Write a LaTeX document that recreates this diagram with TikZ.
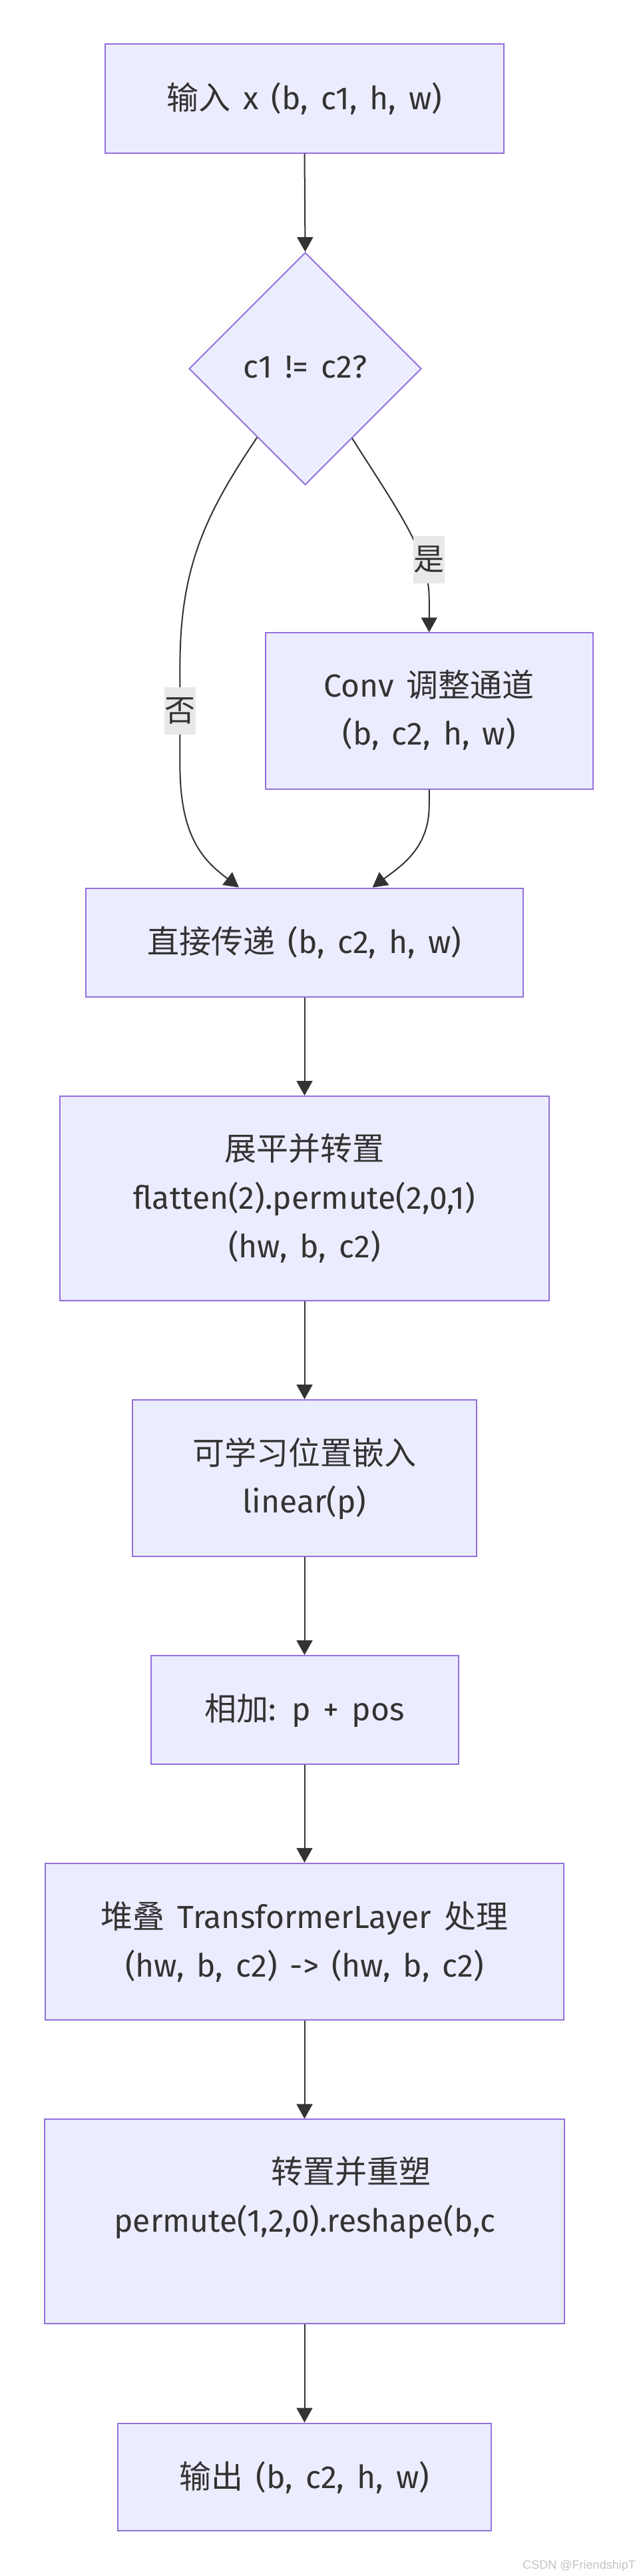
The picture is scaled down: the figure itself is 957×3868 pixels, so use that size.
\documentclass[tikz,border=0pt]{standalone}
\usepackage{fontspec}
\setmainfont{Fira Sans}[WordSpace=1.5]
\newfontfamily\cjk{Noto Sans CJK SC}
\newfontfamily\wmfont{Liberation Sans}
\usetikzlibrary{arrows.meta,shapes.geometric}
\definecolor{mmfill}{HTML}{ECECFF}
\definecolor{mmborder}{HTML}{9370DB}
\definecolor{mmline}{HTML}{333333}
\definecolor{mmlabel}{HTML}{E8E8E8}
\definecolor{wmgray}{HTML}{C4C4C4}
\tikzset{
 flowbox/.style={rectangle, draw=mmborder, fill=mmfill, line width=2pt, inner sep=0pt},
 decbox/.style={diamond, draw=mmborder, fill=mmfill, line width=2pt, inner sep=0pt, minimum width=349pt, minimum height=349pt},
 txt/.style={anchor=base, inner sep=0pt, text=mmline, font=\fontsize{48}{58}\selectfont},
 edgelbl/.style={fill=mmlabel, inner sep=0pt, minimum width=47.6pt, minimum height=71pt, text=mmline, font=\fontsize{46}{56}\selectfont\cjk},
 arr/.style={draw=mmline, line width=2pt, -{Triangle[length=22pt,width=24pt]}},
}
\begin{document}
\begin{tikzpicture}[x=1pt,y=-1pt]
\useasboundingbox (0,0) rectangle (957,3868);
\fill[white] (0,0) rectangle (957,3868);
% boxes
\node[flowbox, minimum width=599.3pt, minimum height=163.3pt] (in) at (457.5,148) {};
\node[decbox] (dec) at (458.5,553.6) {};
\node[flowbox, minimum width=492.5pt, minimum height=234.7pt] (conv) at (644.75,1067.65) {};
\node[flowbox, minimum width=656.7pt, minimum height=163.3pt] (direct) at (457.5,1415.15) {};
\node[flowbox, minimum width=735.4pt, minimum height=306.8pt] (flat) at (457.5,1799.4) {};
\node[flowbox, minimum width=517.6pt, minimum height=234.7pt] (learn) at (457.5,2219.35) {};
\node[flowbox, minimum width=462pt, minimum height=163.2pt] (add) at (457.5,2567.6) {};
\node[flowbox, minimum width=778.8pt, minimum height=234.8pt] (trans) at (457.5,2915.2) {};
\node[flowbox, minimum width=781.8pt, minimum height=306.2pt] (resh) at (457.5,3335.5) {};
\node[flowbox, minimum width=561pt, minimum height=161.5pt] (out) at (457.5,3719.25) {};
% texts
\node[txt] (tin) at (457.5,164.5) {{\cjk 输入} x (b, c1, h, w)};
\node[txt] (tdec) at (458.5,567.6) {c1 != c2?};
\node[txt] (tconva) at (644.75,1046) {Conv {\cjk 调整通道}};
\node[txt] (tconvb) at (644.75,1118) {(b, c2, h, w)};
\node[txt] (tdirect) at (457.5,1431.5) {{\cjk 直接传递} (b, c2, h, w)};
\node[txt] (tflata) at (457.5,1742) {\cjk 展平并转置};
\node[txt] (tflatb) at (457.5,1815) {flatten(2).permute(2,0,1)};
\node[txt] (tflatc) at (457.5,1888) {(hw, b, c2)};
\node[txt] (tlearna) at (457.5,2199) {\cjk 可学习位置嵌入};
\node[txt] (tlearnb) at (457.5,2271) {linear(p)};
\node[txt] (tadd) at (457.5,2583.5) {{\cjk 相加}: p + pos};
\node[txt] (ttransa) at (457.5,2895) {{\cjk 堆叠} TransformerLayer {\cjk 处理}};
\node[txt] (ttransb) at (457.5,2968) {(hw, b, c2) -> (hw, b, c2)};
\node[txt] (trersha) at (527.3,3278) {\cjk 转置并重塑};
\node[txt] (treshb) at (457.7,3351) {permute(1,2,0).reshape(b,c};
\node[txt] (tout) at (457.5,3736.5) {{\cjk 输出} (b, c2, h, w)};
% connectors
\draw[arr] (in.south) -- (dec.north);
\draw[arr] (dec.304.3) .. controls (600,770) and (644.75,830) .. (644.75,900) -- (conv.north);
\draw[arr] (dec.235.7) .. controls (310,770) and (270.4,850) .. (270.4,1000) -- (270.4,1150) .. controls (270.4,1262) and (310,1295) .. (direct.140);
\draw[arr] (conv.south) -- (644.75,1210) .. controls (644.75,1275) and (600,1302) .. (direct.39.7);
\draw[arr] (direct.south) -- (flat.north);
\draw[arr] (flat.south) -- (learn.north);
\draw[arr] (learn.south) -- (add.north);
\draw[arr] (add.south) -- (trans.north);
\draw[arr] (trans.south) -- (resh.north);
\draw[arr] (resh.south) -- (out.north);
% edge labels
\node[edgelbl] (lyes) at (644.5,840.2) {是};
\node[edgelbl] (lno) at (270.4,1067.6) {否};
% watermark
\node[anchor=base east, inner sep=0pt, text=wmgray, font=\fontsize{18}{21}\wmfont] (wm) at (955,3857) {CSDN @FriendshipT};
\end{tikzpicture}
\end{document}
